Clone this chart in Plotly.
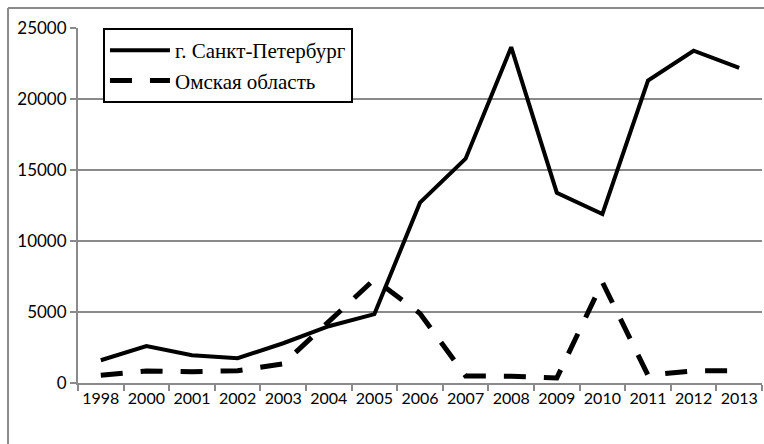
import plotly.graph_objects as go

years = ["1998", "2000", "2001", "2002", "2003", "2004", "2005", "2006",
         "2007", "2008", "2009", "2010", "2011", "2012", "2013"]
spb = [1600, 2600, 1950, 1750, 2800, 4000, 4850, 12700,
       15800, 23650, 13400, 11900, 21300, 23400, 22200]
omsk = [550, 850, 800, 870, 1350, 4300, 7300, 4900,
        500, 480, 350, 7100, 550, 850, 870]

y_ticks = [0, 5000, 10000, 15000, 20000, 25000]
y_labels = ["0", "5000", "10000", "15000", "20000", "25000"]

fig = go.Figure()
fig.add_trace(go.Scatter(
    x=years, y=spb, mode="lines", name="г. Санкт-Петербург",
    line=dict(color="black", width=4), legendgroup="a"
))
fig.add_trace(go.Scatter(
    x=years, y=omsk, mode="lines", name="Омская область",
    line=dict(color="black", width=5, dash="22px,18px"), legendgroup="b"
))

# outer frame (left and top edges visible in the picture)
fig.add_shape(type="line", xref="paper", yref="paper",
              x0=-0.1023, x1=-0.1023, y0=-0.2, y1=1.0563,
              line=dict(color="#8a8a8a", width=2))
fig.add_shape(type="line", xref="paper", yref="paper",
              x0=-0.1023, x1=1.01, y0=1.0563, y1=1.0563,
              line=dict(color="#8a8a8a", width=2))

fig.update_layout(
    width=764, height=444,
    paper_bgcolor="white", plot_bgcolor="white",
    font=dict(family="Lato, sans-serif", color="black", size=16),
    margin=dict(l=78, r=2, t=28, b=61, autoexpand=False),
    showlegend=True,
    legend=dict(
        x=0.0365, y=1.0, xanchor="left", yanchor="top",
        bordercolor="black", borderwidth=2, bgcolor="white",
        font=dict(family="Liberation Serif", size=21, color="black"),
        itemwidth=60, traceorder="grouped", tracegroupgap=0,
    ),
    xaxis=dict(
        type="category", showgrid=False, showline=True,
        linecolor="#8a8a8a", linewidth=2, tickangle=0, automargin=False,
        ticks="outside", tickson="boundaries", ticklen=6,
        tickcolor="#8a8a8a", tickwidth=2,
        range=[-0.5, 14.5],
    ),
    yaxis=dict(
        range=[0, 25000], tickvals=y_ticks, ticktext=y_labels,
        tickfont=dict(size=17),
        showgrid=True, gridcolor="#8a8a8a", gridwidth=2, automargin=False,
        showline=True, linecolor="#8a8a8a", linewidth=2,
        ticks="outside", ticklen=6, tickcolor="#8a8a8a", tickwidth=2,
        zeroline=False,
    ),
)

fig.write_html("out.html", config={"displayModeBar": False},
               post_script="document.body.style.margin = '0';")
